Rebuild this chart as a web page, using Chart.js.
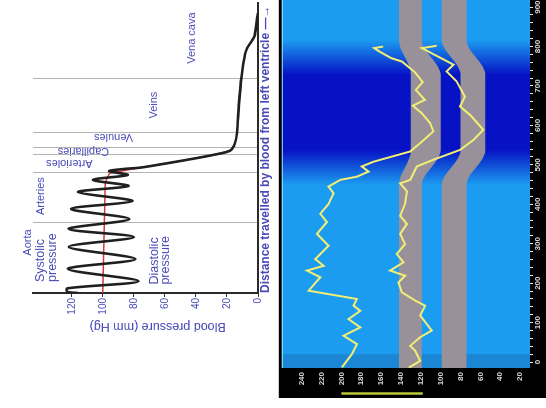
<!DOCTYPE html>
<html>
<head>
<meta charset="utf-8">
<script src="https://cdn.jsdelivr.net/npm/chart.js@4.4.1/dist/chart.umd.min.js"></script>
<style>
  html, body { margin: 0; padding: 0; background: #fff; }
  body { width: 546px; height: 408px; position: relative; overflow: hidden; }
  .rot { position: absolute; transform: rotate(-90deg); transform-origin: 0 0; }
  .rot canvas { display: block; }
  #leftBox { left: 0; top: 340px; width: 340px; height: 273px; }
  #rightBox { left: 273px; top: 408px; width: 408px; height: 273px; }
</style>
</head>
<body>
<div id="leftBox" class="rot"><canvas id="pressure" width="340" height="273"></canvas></div>
<div id="rightBox" class="rot"><canvas id="abpm" width="408" height="273"></canvas></div>
<script>
// left panel: pressure along the circulation (distance in % of the path)
const vesselNames = ['Aorta', 'Arteries', 'Arterioles', 'Capillaries', 'Venules', 'Veins', 'Vena cava'];
const vesselBounds = [24.4, 41.7, 47.9, 50.3, 55.5, 73.8];
const pressureTicks = [0, 20, 40, 60, 80, 100, 120];
const distance = [0, 0.4, 1.6, 4.1, 8.3, 11.7, 15.9, 19.3, 22.1, 25.5, 29, 31.7, 34.8, 36.9, 39, 40.7, 42, 42.8,
  43.2, 44.7, 45.9, 47.6, 49.1, 51.6, 55.2, 65, 75, 82.3, 84.6, 86.5, 87.8, 89, 95.6, 96.5];
const pressure = [116, 123, 123, 77, 122.5, 79, 122, 80, 122, 83, 120.5, 81, 116, 83.5, 106.5, 84, 96, 86,
  76.3, 59, 46, 29, 18, 14.9, 13.5, 12.3, 10.5, 8.4, 6.8, 4.5, 3, 2, 0.3, 0];
const meanDistance = [0, 38, 41.3, 43.2, 44.7, 45.9, 47.6, 49.1];
const meanPressure = [100, 98.5, 95.7, 76.3, 59, 46, 29, 18];

// right panel: ambulatory readings over time
const timeTicks = [0, 100, 200, 300, 400, 500, 600, 700, 800, 900];
const mmHgTicks = [240, 220, 200, 180, 160, 140, 120, 100, 80, 60, 40, 20];
const nightShade = [449, 538, 728, 817];
const bandTimes = [-15, 449, 538, 728, 817, 918];
const sysBandHigh = [142, 142, 130, 130, 142, 142];
const sysBandLow = [119, 119, 100, 100, 119, 119];
const diaBandHigh = [99, 99, 80, 80, 99, 99];
const diaBandLow = [74, 74, 55, 55, 74, 74];
const sysTimes = [-13.5, 20, 45.7, 66.8, 88, 109, 130, 143, 160, 181, 215, 232, 244, 261, 295, 325, 355, 376, 401,
  411, 428, 445, 462, 470, 483, 496, 508, 534, 555, 585, 606, 631, 650, 665, 690, 710, 735, 762, 771, 788, 796, 800];
const sysValues = [199.5, 189.4, 184.4, 197.8, 181, 192.8, 181, 187.7, 184.4, 233, 221.2, 234.7, 217.9, 226.2, 212.9,
  224.6, 214.6, 221.2, 212.9, 211, 207.8, 212.9, 201, 184.4, 172.7, 179.4, 167.6, 130.7, 120.7, 107.3, 110.6, 119,
  128, 116, 125, 118, 126, 139, 150, 162, 167, 158];
const diaTimes = [-14, 3, 29, 41, 63, 80, 118, 143, 156, 177, 202, 219, 232, 253, 274, 299, 325, 350, 371, 401, 433,
  453, 462, 496, 513, 538, 563, 589, 627, 648, 673, 712, 737, 754, 796, 802];
const diaValues = [132, 120.7, 125.7, 130.7, 120.7, 109, 120.7, 115.7, 125.7, 139.2, 142.5, 135.8, 150.9, 137.5,
  144.2, 135.8, 140.8, 134, 140.8, 135.8, 134, 140.8, 130.7, 124, 107.3, 80.5, 67, 57, 70.5, 80.5, 75.5, 84, 94, 87,
  119, 104];
const markerRange = [200, 118];
const startGap = 20; // readings before this time sit on a darker strip

const BLUE = '#4a4ab8';
const YELLOW = '#f2ee74';
const BAND = '#98919a';
const pts = (xs, ys) => xs.map((x, i) => ({ x, y: ys[i] }));
Chart.defaults.font.family = '"Liberation Sans", Arial, sans-serif';

const vesselLabels = {
  id: 'vesselLabels',
  afterDatasetsDraw(chart) {
    const { ctx, scales: { x, y } } = chart;
    const items = [
      { text: 'Aorta', d: 17.4, p: 148.4, size: 11 },
      { text: 'Systolic', d: 3.8, p: 140.4, size: 12.5, align: 'left' },
      { text: 'pressure', d: 3.8, p: 132.6, size: 12.5, align: 'left' },
      { text: 'Diastolic', d: 2.9, p: 66.6, size: 12.5, align: 'left' },
      { text: 'pressure', d: 2.9, p: 59.5, size: 12.5, align: 'left' },
      { text: vesselNames[1], d: 33.4, p: 139.7, size: 11 },
      { text: vesselNames[2], d: 44.8, p: 121.6, size: 11, rot: true },
      { text: vesselNames[3], d: 49, p: 112.5, size: 11, rot: true },
      { text: vesselNames[4], d: 53.8, p: 93.1, size: 11, rot: true },
      { text: vesselNames[5], d: 64.8, p: 67.3, size: 11 },
      { text: vesselNames[6], d: 87.9, p: 42.7, size: 11 }
    ];
    ctx.save();
    ctx.fillStyle = BLUE;
    ctx.textBaseline = 'middle';
    items.forEach(it => {
      ctx.save();
      ctx.font = it.size + 'px "Liberation Sans", Arial, sans-serif';
      ctx.translate(x.getPixelForValue(it.d), y.getPixelForValue(it.p));
      if (it.rot) ctx.rotate(-Math.PI / 2);
      ctx.textAlign = it.align || 'center';
      ctx.fillText(it.text, 0, 0);
      ctx.restore();
    });
    ctx.restore();
  }
};

new Chart(document.getElementById('pressure'), {
  type: 'line',
  data: {
    datasets: [
      { data: pts(distance, pressure), borderColor: '#1f1f1f', borderWidth: 2.6, pointRadius: 0, tension: 0.3 },
      { data: pts(meanDistance, meanPressure), borderColor: '#d23c3c', borderWidth: 1.5, pointRadius: 0 }
    ]
  },
  options: {
    responsive: false,
    animation: false,
    layout: { padding: { top: 33, right: 3 } },
    plugins: { legend: { display: false }, tooltip: { enabled: false } },
    scales: {
      x: {
        type: 'linear', min: 0, max: 100,
        afterFit: s => { s.height = 15; },
        afterBuildTicks: s => { s.ticks = vesselBounds.map(v => ({ value: v })); },
        ticks: { display: false },
        grid: { color: '#b4b4b4', lineWidth: 1, drawTicks: false },
        border: { display: true, color: '#2b2b2b', width: 2 },
        title: { display: true, text: 'Distance travelled by blood from left ventricle —→', align: 'start',
          color: BLUE, font: { size: 12, weight: 'bold' }, padding: 0 }
      },
      y: {
        min: 0, max: 145,
        afterFit: s => { s.width = 47; },
        afterBuildTicks: s => { s.ticks = pressureTicks.map(v => ({ value: v })); },
        ticks: { color: BLUE, font: { size: 10 }, padding: 1 },
        grid: { drawOnChartArea: false, tickLength: 4, tickColor: '#333' },
        border: { display: true, color: '#2b2b2b', width: 2 },
        title: { display: true, text: 'Blood pressure (mm Hg)       ', color: BLUE, font: { size: 12.5 },
          padding: { top: 6, bottom: 0 } }
      }
    }
  },
  plugins: [vesselLabels]
});

const abpmBackdrop = {
  id: 'abpmBackdrop',
  beforeDraw(chart) {
    const { ctx, chartArea: a, scales: { x, y } } = chart;
    ctx.save();
    ctx.fillStyle = '#000';
    ctx.fillRect(y.left, a.top - 3, chart.width - y.left, chart.height - a.top + 3);
    const x0 = x.getPixelForValue(x.min), x1 = x.getPixelForValue(x.max);
    const g = ctx.createLinearGradient(x0, 0, x1, 0);
    const stop = t => (x.getPixelForValue(t) - x0) / (x1 - x0);
    const light = '#1c9cf0', dark = '#0612c4';
    g.addColorStop(0, light);
    g.addColorStop(stop(nightShade[0]), light);
    g.addColorStop(stop(nightShade[1]), dark);
    g.addColorStop(stop(nightShade[2]), dark);
    g.addColorStop(stop(nightShade[3]), light);
    g.addColorStop(1, light);
    ctx.fillStyle = g;
    ctx.fillRect(a.left, a.top, a.width, a.height);
    ctx.fillStyle = 'rgba(20,40,90,0.18)';
    ctx.fillRect(a.left, a.top, x.getPixelForValue(startGap) - a.left, a.height);
    ctx.strokeStyle = '#9fe4ff';
    ctx.lineWidth = 1;
    ctx.beginPath();
    ctx.moveTo(a.left, a.top + 0.5);
    ctx.lineTo(a.right, a.top + 0.5);
    ctx.stroke();
    ctx.restore();
  },
  afterDraw(chart) {
    const { ctx, scales: { y } } = chart;
    ctx.save();
    ctx.strokeStyle = '#b9c73a';
    ctx.lineWidth = 2.5;
    ctx.beginPath();
    ctx.moveTo(y.left + 4.5, y.getPixelForValue(markerRange[0]));
    ctx.lineTo(y.left + 4.5, y.getPixelForValue(markerRange[1]));
    ctx.stroke();
    ctx.restore();
  }
};

const band = (ys, fill) => ({
  data: pts(bandTimes, ys), borderWidth: 0, pointRadius: 0, cubicInterpolationMode: 'monotone',
  fill, backgroundColor: BAND, borderColor: BAND
});

new Chart(document.getElementById('abpm'), {
  type: 'line',
  data: {
    datasets: [
      { data: pts(sysTimes, sysValues), borderColor: YELLOW, borderWidth: 2, pointRadius: 0 },
      { data: pts(diaTimes, diaValues), borderColor: YELLOW, borderWidth: 2, pointRadius: 0 },
      band(sysBandLow, false),
      band(sysBandHigh, '-1'),
      band(diaBandLow, false),
      band(diaBandHigh, '-1')
    ]
  },
  options: {
    responsive: false,
    animation: false,
    layout: { padding: { left: 10, top: 8 } },
    plugins: { legend: { display: false }, tooltip: { enabled: false } },
    scales: {
      x: {
        type: 'linear', min: -15, max: 918,
        afterFit: s => { s.height = 16; },
        afterBuildTicks: s => {
          const t = [];
          timeTicks.forEach((v, i) => {
            t.push({ value: v });
            const next = timeTicks[i + 1];
            if (next !== undefined) for (let k = 1; k < 5; k++) t.push({ value: v + k * (next - v) / 5 });
          });
          s.ticks = t;
        },
        ticks: { color: '#dcdcdc', font: { size: 8, weight: 'bold' }, padding: 0, maxRotation: 0, autoSkip: false,
          callback: v => timeTicks.includes(v) ? String(v) : '' },
        grid: { drawOnChartArea: false, tickLength: 3, tickColor: '#e8e8e8' },
        border: { display: false }
      },
      y: {
        min: 10, max: 260,
        afterFit: s => { s.width = 30; },
        afterBuildTicks: s => { s.ticks = mmHgTicks.map(v => ({ value: v })); },
        ticks: { color: '#dcdcdc', font: { size: 8, weight: 'bold' }, padding: 4 },
        grid: { display: false, drawTicks: false },
        border: { display: false }
      }
    }
  },
  plugins: [abpmBackdrop]
});
</script>
</body>
</html>
